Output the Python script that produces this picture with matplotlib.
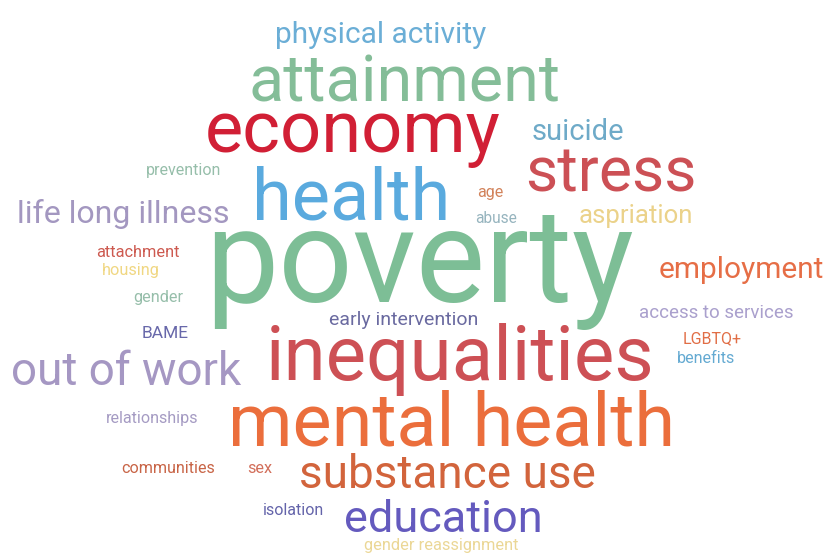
import matplotlib
matplotlib.use("Agg")
import matplotlib.pyplot as plt

# word cloud terms and their relative weights (rendered size)
words = ["poverty", "mental health", "inequalities", "economy", "health",
         "attainment", "stress", "out of work", "substance use", "education",
         "life long illness", "physical activity", "employment", "suicide",
         "aspriation", "early intervention", "access to services", "BAME",
         "gender reassignment", "prevention", "attachment", "housing", "gender",
         "relationships", "communities", "isolation", "LGBTQ+", "benefits",
         "age", "abuse", "sex"]
weights = [94, 53, 55, 52, 52,
           46.5, 45, 33, 33, 32.5,
           23, 21.5, 21.5, 21,
           18.5, 14, 13.5, 12.5,
           11.8, 11.5, 11.8, 11.7, 11.7,
           11.6, 11.6, 11.5, 11.5, 11.6,
           11.5, 11.2, 11.7]
colors = ["#7dbe96", "#eb6e3c", "#cd5055", "#d11f35", "#5aaade",
          "#84bd98", "#cc5055", "#a597c3", "#d2643c", "#645abe",
          "#a397c0", "#6baed6", "#e66e46", "#6eaac8",
          "#ebd28a", "#6a6aa0", "#aaa0cd", "#6868aa",
          "#ebd796", "#96beaa", "#cd5a50", "#f0d782", "#96beaa",
          "#a59bc3", "#c86446", "#6464aa", "#e16e46", "#64aad2",
          "#d2825a", "#96b4be", "#d26e5a"]

# layout: centre x and baseline y of each word, in pixels
xc = [420, 451, 460, 353, 351,
      405, 611, 126, 447, 443,
      123, 381, 741, 578,
      636, 404, 716, 165,
      441, 184, 138, 131, 158,
      152, 168, 293, 712, 706,
      490, 496, 260]
yb = [302, 445, 380, 152, 220,
      102, 192, 385, 488, 532,
      223, 43, 278, 140,
      223, 325, 318, 338,
      550, 175, 257, 275, 302,
      423, 473, 515, 343, 363,
      197, 223, 473]

fig = plt.figure(figsize=(8.35, 5.56), dpi=100)
ax = fig.add_axes([0, 0, 1, 1])
ax.set_xlim(0, 835)
ax.set_ylim(556, 0)
ax.axis("off")

for w, s, c, x, y in zip(words, weights, colors, xc, yb):
    ax.text(x, y, w, fontsize=s, color=c, family="Roboto",
            ha="center", va="baseline")

fig.savefig("out.png", dpi=100, facecolor="white")
